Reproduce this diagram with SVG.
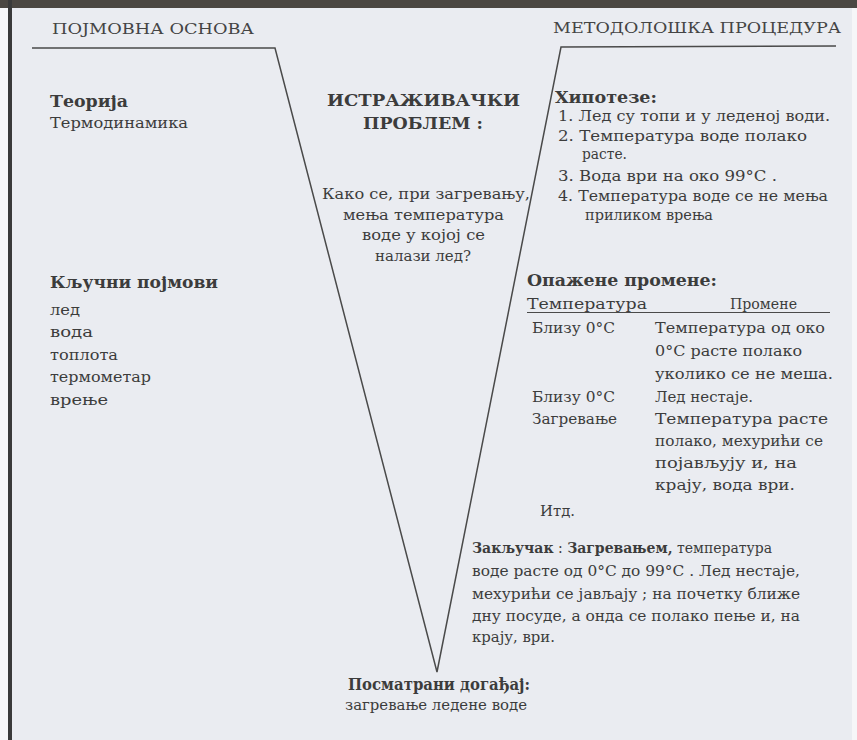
<svg xmlns="http://www.w3.org/2000/svg" width="857" height="740" viewBox="0 0 857 740">
<style>
text{font-family:"DejaVu Serif","Liberation Serif",serif;fill:#3c3c3c;font-size:15.5px}
.h{font-size:15.5px;fill:#444}
.b{font-weight:bold;font-size:16px}
.ln{fill:none;stroke:#4a4a4a;stroke-width:1.5;stroke-linejoin:miter}
</style>
<rect x="0" y="0" width="857" height="740" fill="#f7f7f9"/>
<rect x="10" y="8" width="844" height="732" fill="#eaecf1"/>
<rect x="0" y="0" width="857" height="8" fill="#4b4742"/>
<rect x="8" y="0" width="4" height="740" fill="#3a3a3a"/>
<rect x="852" y="8" width="5" height="732" fill="#f6f6f8"/>

<g id="connectors">
<path class="ln" d="M32 48 L275 48 L437 672 L561 47 L836 46"/>
</g>

<g id="header-left">
<text class="h" x="52" y="34" textLength="202" lengthAdjust="spacingAndGlyphs">ПОЈМОВНА ОСНОВА</text>
</g>
<g id="header-right">
<text class="h" x="553" y="33" textLength="288" lengthAdjust="spacingAndGlyphs">МЕТОДОЛОШКА ПРОЦЕДУРА</text>
</g>

<g id="theory">
<text class="b" x="50" y="107" textLength="78" lengthAdjust="spacingAndGlyphs">Теорија</text>
<text x="50" y="128" textLength="138" lengthAdjust="spacingAndGlyphs">Термодинамика</text>
</g>

<g id="key-concepts">
<text class="b" x="50" y="288" textLength="168" lengthAdjust="spacingAndGlyphs">Кључни  појмови</text>
<text x="50" y="315" textLength="30" lengthAdjust="spacingAndGlyphs">лед</text>
<text x="50" y="337" textLength="43" lengthAdjust="spacingAndGlyphs">вода</text>
<text x="50" y="360" textLength="68" lengthAdjust="spacingAndGlyphs">топлота</text>
<text x="50" y="382" textLength="101" lengthAdjust="spacingAndGlyphs">термометар</text>
<text x="50" y="405" textLength="58" lengthAdjust="spacingAndGlyphs">врење</text>
</g>

<g id="research-problem">
<text class="b" x="327" y="106" textLength="193" lengthAdjust="spacingAndGlyphs" style="font-size:16.5px">ИСТРАЖИВАЧКИ</text>
<text class="b" x="363" y="129" textLength="120" lengthAdjust="spacingAndGlyphs" style="font-size:16.5px">ПРОБЛЕМ :</text>
<text x="322" y="199" textLength="208" lengthAdjust="spacingAndGlyphs">Како се, при загревању,</text>
<text x="343" y="220" textLength="161" lengthAdjust="spacingAndGlyphs">мења температура</text>
<text x="362" y="240" textLength="123" lengthAdjust="spacingAndGlyphs">воде у којој се</text>
<text x="375" y="261" textLength="96" lengthAdjust="spacingAndGlyphs">налази лед?</text>
</g>

<g id="hypotheses">
<text class="b" x="555" y="103" textLength="102" lengthAdjust="spacingAndGlyphs">Хипотезе:</text>
<text x="558" y="121" textLength="272" lengthAdjust="spacingAndGlyphs">1. Лед су топи и у леденој води.</text>
<text x="558" y="141" textLength="249" lengthAdjust="spacingAndGlyphs">2. Температура воде полако</text>
<text x="582" y="159" textLength="45" lengthAdjust="spacingAndGlyphs">расте.</text>
<text x="558" y="181" textLength="219" lengthAdjust="spacingAndGlyphs">3. Вода ври на око 99°C .</text>
<text x="558" y="201" textLength="270" lengthAdjust="spacingAndGlyphs">4. Температура воде се не мења</text>
<text x="585" y="220" textLength="128" lengthAdjust="spacingAndGlyphs">приликом врења</text>
</g>

<g id="observed-changes">
<text class="b" x="527" y="286" textLength="190" lengthAdjust="spacingAndGlyphs">Опажене промене:</text>
<text x="527" y="309" textLength="120" lengthAdjust="spacingAndGlyphs">Температура</text>
<text x="730" y="309" textLength="67" lengthAdjust="spacingAndGlyphs">Промене</text>
<line x1="527" y1="312.5" x2="830" y2="312.5" stroke="#4a4a4a" stroke-width="1.2"/>
<text x="532" y="333" textLength="83" lengthAdjust="spacingAndGlyphs">Близу 0°C</text>
<text x="655" y="333" textLength="170" lengthAdjust="spacingAndGlyphs">Температура од око</text>
<text x="655" y="356" textLength="147" lengthAdjust="spacingAndGlyphs">0°C  расте полако</text>
<text x="655" y="379" textLength="178" lengthAdjust="spacingAndGlyphs">уколико се не меша.</text>
<text x="532" y="402" textLength="83" lengthAdjust="spacingAndGlyphs">Близу 0°C</text>
<text x="655" y="402" textLength="98" lengthAdjust="spacingAndGlyphs">Лед  нестаје.</text>
<text x="532" y="424" textLength="85" lengthAdjust="spacingAndGlyphs">Загревање</text>
<text x="655" y="424" textLength="173" lengthAdjust="spacingAndGlyphs">Температура  расте</text>
<text x="655" y="446" textLength="168" lengthAdjust="spacingAndGlyphs">полако, мехурићи се</text>
<text x="655" y="468" textLength="142" lengthAdjust="spacingAndGlyphs">појављују  и, на</text>
<text x="655" y="490" textLength="140" lengthAdjust="spacingAndGlyphs">крају, вода ври.</text>
<text x="540" y="516" textLength="35" lengthAdjust="spacingAndGlyphs">Итд.</text>
</g>

<g id="conclusion">
<text x="472" y="553" style="font-size:14px"><tspan font-weight="bold">Закључак</tspan> : <tspan font-weight="bold">Загревањем,</tspan> температура</text>
<text x="472" y="576" textLength="328" lengthAdjust="spacingAndGlyphs">воде расте од 0°C  до 99°C . Лед нестаје,</text>
<text x="472" y="599" textLength="328" lengthAdjust="spacingAndGlyphs">мехурићи се јављају ; на почетку ближе</text>
<text x="472" y="621" textLength="328" lengthAdjust="spacingAndGlyphs">дну посуде, а  онда се полако пење и, на</text>
<text x="472" y="642" textLength="83" lengthAdjust="spacingAndGlyphs">крају, ври.</text>
</g>

<g id="observed-event">
<text class="b" x="348" y="690" textLength="182" lengthAdjust="spacingAndGlyphs">Посматрани догађај:</text>
<text x="345" y="710" textLength="182" lengthAdjust="spacingAndGlyphs">загревање ледене воде</text>
</g>
</svg>
